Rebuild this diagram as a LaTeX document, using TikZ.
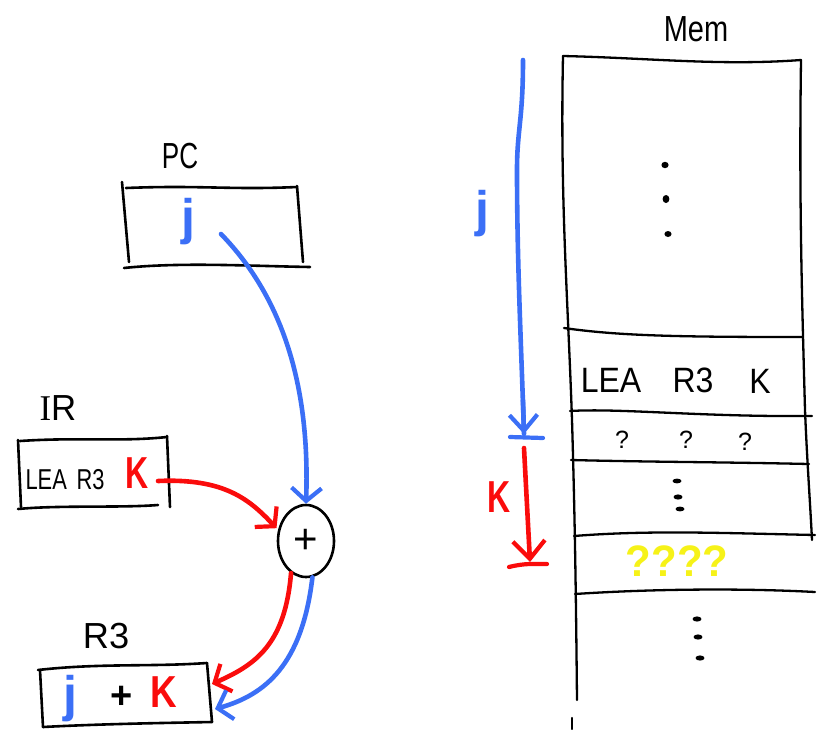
\documentclass[tikz,border=0pt]{standalone}
\usepackage{fontspec}
\setmainfont{Liberation Sans}
\newfontfamily\serifletter{Liberation Serif}
\usetikzlibrary{arrows.meta,shapes.geometric}
\definecolor{penblue}{RGB}{59,111,246}
\definecolor{penred}{RGB}{250,12,12}
\definecolor{penyellow}{RGB}{246,242,24}

\begin{document}
\begin{tikzpicture}[x=1pt,y=-1pt,
  ink/.style={line width=2.6pt, line cap=round, line join=round},
  memline/.style={line width=2.3pt, line cap=round, line join=round},
  flow/.style={line width=4.6pt, line cap=round,
    -{Straight Barb[length=13pt,width=30pt,line width=4.2pt]}},
  lbl/.style={inner sep=0pt, font=\fontsize{29}{31}\selectfont, yscale=1.25},
  small/.style={inner sep=0pt, font=\fontsize{23}{25}\selectfont, xscale=0.95, yscale=1.25},
  memtxt/.style={inner sep=0pt, font=\fontsize{32}{34}\selectfont, yscale=1.1},
  qmark/.style={inner sep=0pt, font=\fontsize{25}{27}\selectfont},
  bigj/.style={inner sep=0pt, text=penblue, font=\bfseries\fontsize{50}{52}\selectfont},
  bigk/.style={inner sep=0pt, text=penred, font=\bfseries\fontsize{40}{42}\selectfont, xscale=0.8, yscale=1.12},
  dotmark/.style={fill=black, draw=none}
]
\useasboundingbox (0,0) rectangle (817,729);

% ---------- PC register ----------
\node[lbl, xscale=0.9] (pclbl) at (180,156) {PC};
\draw[ink] (126,188) .. controls (200,185) and (230,190) .. (297,187);
\draw[ink] (122,182) -- (129,262);
\draw[ink] (297,186) -- (303,262);
\draw[ink] (124,268) .. controls (180,262) and (250,266) .. (310,267);
\node[bigj] (pcj) at (188,222) {j};
\coordinate (pcout) at (221,234);

% ---------- IR register ----------
\node[lbl, xscale=1.2] (irlbl) at (58,408) {{\serifletter I}R};
\draw[ink] (20,441) .. controls (80,437) and (120,442) .. (167,437);
\draw[ink] (18,440) -- (21,507);
\draw[ink] (167,436) -- (170,507);
\draw[ink] (18,509) .. controls (60,505) and (120,508) .. (158,505);
\node[small] (irop) at (65,480) {LEA \,R3};
\node[bigk] (irk) at (137,473) {K};
\coordinate (irout) at (158,481);

% ---------- adder ----------
\node[ink, draw, ellipse, minimum width=56pt, minimum height=72pt, inner sep=0pt,
      font=\fontsize{42}{44}\selectfont] (sum) at (306,541) {+};

% ---------- R3 register ----------
\node[lbl, xscale=1.25] (r3lbl) at (106,636) {R3};
\draw[ink] (38,670) .. controls (100,663) and (150,667) .. (207,663);
\draw[ink] (40,670) -- (43,727);
\draw[ink] (207,663) -- (212,722);
\draw[ink] (43,727) .. controls (100,724) and (160,723) .. (212,722);
\node[bigj] (r3j) at (70,699) {j};
\node[inner sep=0pt, font=\bfseries\fontsize{38}{40}\selectfont] (r3plus) at (122,697) {+};
\node[bigk, xscale=1.15] (r3k) at (164,692) {K};
\coordinate (r3inA) at (212,684);
\coordinate (r3inB) at (215,709);

% ---------- data paths ----------
\draw[flow, penblue] (pcout) .. controls (285,300) and (310,390) .. (sum.north);
\draw[flow, penred] (irout) .. controls (225,478) and (250,500) .. ([xshift=-2pt]sum.155);
\draw[flow, penred] (sum.245) .. controls (285,645) and (255,665) .. (r3inA);
\draw[flow, penblue] (sum.280) .. controls (302,665) and (265,695) .. (r3inB);

% ---------- memory ----------
\node[lbl] (memlbl) at (696,29) {Mem};
\draw[memline] (563,56) .. controls (650,58) and (720,66) .. (801,60);
\draw[memline] (563,56) .. controls (560,200) and (568,300) .. (572,420)
               .. controls (575,520) and (576,600) .. (577,700);
\draw[memline] (801,60) .. controls (799,200) and (802,300) .. (805,410)
               .. controls (807,460) and (810,500) .. (812,540);
\draw[memline] (564,328) .. controls (620,336) and (680,337) .. (802,337);
\draw[memline] (570,411) .. controls (620,408) and (700,417) .. (812,416);
\draw[memline] (571,460) .. controls (650,462) and (720,462) .. (809,464);
\draw[memline] (574,536) .. controls (650,530) and (720,533) .. (815,535);
\draw[memline] (575,594) .. controls (650,589) and (740,588) .. (815,592);
\draw[memline] (572,718) -- (572,729);

\node[memtxt] (memlea) at (611,380) {LEA};
\node[memtxt] (memr) at (693,380) {R3};
\node[memtxt] (memk) at (760,381) {K};
\node[qmark] (q1) at (622,440) {?};
\node[qmark] (q2) at (686,440) {?};
\node[qmark] (q3) at (745,442) {?};
\node[inner sep=0pt, text=penyellow, font=\bfseries\fontsize{42}{44}\selectfont, yscale=1.05] (unk) at (677,561) {????};

% vertical ellipses inside memory
\fill[dotmark] (665,165) ellipse (3.6pt and 3.2pt);
\fill[dotmark] (666,199) ellipse (3.4pt and 4pt);
\fill[dotmark] (668,234) ellipse (3.6pt and 3pt);
\fill[dotmark] (677,481) ellipse (4.5pt and 2.4pt);
\fill[dotmark] (678,497) ellipse (4.5pt and 2.6pt);
\fill[dotmark] (680,509) ellipse (4.5pt and 2.4pt);
\fill[dotmark] (697,619) ellipse (4.5pt and 2.6pt);
\fill[dotmark] (698,637) ellipse (4.5pt and 2.6pt);
\fill[dotmark] (700,658) ellipse (4.5pt and 2.6pt);

% ---------- address offsets ----------
\coordinate (jtop) at (523,60);
\coordinate (jend) at (524,434);
\coordinate (kend) at (530,562);
\node[bigj] (memj) at (482,214) {j};
\node[bigk] (memkoff) at (499,497) {K};
\draw[line width=4.6pt, penblue, line cap=round] (jtop) .. controls (523,120) and (517,130) .. (517,170)
  .. controls (517,260) and (521,340) .. (jend);
\draw[flow, penblue, -{Straight Barb[length=16pt,width=28pt,line width=4.2pt]}] (523,400) -- (jend);
\draw[line width=4.2pt, penblue, line cap=round] (510,437) -- (543,438);
\coordinate (kstart) at (524,448);
\draw[flow, penred, -{Straight Barb[length=18pt,width=32pt,line width=4.2pt]}] (kstart) -- (kend);
\draw[line width=4.2pt, penred, line cap=round] (509,567) .. controls (525,563) and (535,564) .. (547,564);
\end{tikzpicture}
\end{document}
